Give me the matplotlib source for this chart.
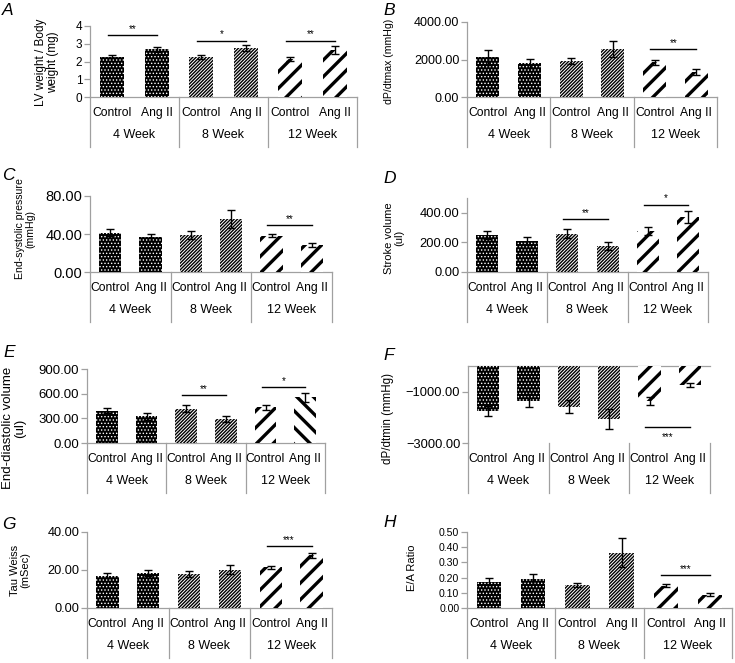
import numpy as np
import matplotlib
matplotlib.use("Agg")
import matplotlib.pyplot as plt
import matplotlib.transforms as mtransforms
from matplotlib.ticker import FuncFormatter

plt.rcParams["font.family"] = ["Liberation Sans", "DejaVu Sans"]

W, H = 735, 663
GRAY = "#a0a0a0"

weeks = ["4 Week", "8 Week", "12 Week"]
groups = ["Control", "Ang II"]

# values: Control/Ang II at 4, 8, 12 weeks
lv_mean = [2.27, 2.68, 2.24, 2.76, 2.15, 2.65]
lv_err = [0.10, 0.12, 0.10, 0.17, 0.10, 0.20]
dpmax_mean = [2110, 1790, 1930, 2580, 1850, 1360]
dpmax_err = [380, 240, 160, 430, 150, 160]
esp_mean = [41.5, 36.5, 38.8, 55.6, 38.3, 28.5]
esp_err = [3.3, 3.5, 4.5, 9.5, 1.8, 2.5]
sv_mean = [248, 208, 260, 174, 276, 371]
sv_err = [27, 28, 30, 27, 26, 40]
edv_mean = [393, 324, 418, 292, 434, 555]
edv_err = [32, 40, 45, 32, 30, 52]
dpmin_mean = [-1740, -1355, -1580, -2070, -1360, -740]
dpmin_err = [195, 260, 250, 390, 155, 90]
tau_mean = [17.0, 18.3, 17.9, 20.2, 21.4, 27.8]
tau_err = [1.3, 1.5, 1.4, 2.5, 0.9, 1.3]
ea_mean = [0.174, 0.191, 0.152, 0.365, 0.148, 0.087]
ea_err = [0.025, 0.030, 0.015, 0.098, 0.010, 0.011]

# significance: (control index, stars, line height)
lv_sig = [(0, "**", 3.5), (2, "*", 3.18), (4, "**", 3.18)]
dpmax_sig = [(4, "**", 2555)]
esp_sig = [(4, "**", 49.4)]
sv_sig = [(2, "**", 355), (4, "*", 456)]
edv_sig = [(2, "**", 584), (4, "*", 681)]
dpmin_sig = [(4, "***", -2380)]
tau_sig = [(4, "***", 32.7)]
ea_sig = [(4, "***", 0.217)]


def two(v, pos):
    return f"{v:.2f}".replace("-", "\u2212")


def panel(fig, rect, letter, letter_xy, mean, err, sig, ylim, yticks, fmt,
          ylabel, ylabel_xy, ylabel_size, tick_size, flip_e=False, stars_below=False):
    l, t, r, b = rect
    ax = fig.add_axes([l / W, 1 - b / H, (r - l) / W, (b - t) / H])
    h_px = b - t
    x = np.arange(6)
    styles = [
        dict(facecolor="black", edgecolor="white", hatch=".....", hlw=0.6),
        dict(facecolor="white", edgecolor="black", hatch="//////////", hlw=1.0),
        dict(facecolor="white", edgecolor="black", hatch="//", hlw=2.4),
    ]
    for i in range(6):
        st = styles[i // 2]
        hatch = st["hatch"]
        if flip_e and i == 5:
            hatch = "\\\\"
        with plt.rc_context({"hatch.linewidth": st["hlw"]}):
            bars = ax.bar(x[i], mean[i], width=0.55, facecolor=st["facecolor"],
                          edgecolor=st["edgecolor"], hatch=hatch, linewidth=0, zorder=2)
        for p in bars:
            if hasattr(p, "set_hatch_linewidth"):
                p.set_hatch_linewidth(st["hlw"])
    ax.errorbar(x, mean, yerr=err, fmt="none", ecolor="black", elinewidth=1.0,
                capsize=2.6, capthick=1.0, zorder=3)

    ax.set_xlim(-0.5, 5.5)
    ax.set_ylim(*ylim)
    ax.set_yticks(yticks)
    ax.yaxis.set_major_formatter(FuncFormatter(fmt))
    ax.set_xticks([])
    for s in ["top", "right", "bottom"]:
        ax.spines[s].set_visible(False)
    ax.spines["left"].set_color(GRAY)
    ax.spines["left"].set_linewidth(0.9)
    ax.tick_params(axis="y", direction="out", length=4, color=GRAY, width=0.9,
                   labelsize=tick_size, pad=1.5)
    ax.axhline(0, color=GRAY, lw=0.9, zorder=1, clip_on=False)

    # category axis below the plot area
    tr = mtransforms.blended_transform_factory(ax.transData, ax.transAxes)
    for xd in [-0.5, 1.5, 3.5, 5.5]:
        ax.plot([xd, xd], [0, -50 / h_px], color=GRAY, lw=0.9, transform=tr, clip_on=False)
    for i in range(6):
        ax.text(x[i], -16 / h_px, groups[i % 2], transform=tr, ha="center", va="center",
                fontsize=8.7)
    for k, wk in enumerate(weeks):
        ax.text(2 * k + 0.5, -38 / h_px, wk, transform=tr, ha="center", va="center",
                fontsize=9)

    # significance lines
    span = ylim[1] - ylim[0]
    for ci, stars, yv in sig:
        ax.plot([ci - 0.1, ci + 1.0], [yv, yv], color="black", lw=1.0, zorder=3)
        if stars_below:
            ax.text(ci + 0.45, yv - span * 10 / h_px, stars, ha="center", va="center",
                    fontsize=7)
        else:
            ax.text(ci + 0.45, yv + span * 1 / h_px, stars, ha="center", va="bottom",
                    fontsize=7)

    fig.text(ylabel_xy[0] / W, 1 - ylabel_xy[1] / H, ylabel, rotation=90, ha="center",
             va="center", multialignment="center", fontsize=ylabel_size, linespacing=1.1)
    fig.text(letter_xy[0] / W, 1 - letter_xy[1] / H, letter, ha="left", va="top",
             fontsize=12.5, fontstyle="italic")
    return ax


fig = plt.figure(figsize=(W / 100, H / 100), dpi=100)

panel(fig, (90, 26, 357, 97), "A", (2, 3), lv_mean, lv_err, lv_sig, (0, 4),
      [0, 1, 2, 3, 4], lambda v, p: f"{v:.0f}", "LV weight / Body\nweight (mg)", (47, 62),
      8.5, 8.5)
panel(fig, (467, 22, 717, 97), "B", (383, 3), dpmax_mean, dpmax_err, dpmax_sig, (0, 4000),
      [0, 2000, 4000], two, "dP/dtmax (mmHg)", (389, 61), 7.6, 9.0)
panel(fig, (90, 196, 332, 272), "C", (2, 168), esp_mean, esp_err, esp_sig, (0, 80),
      [0, 40, 80], two, "End-systolic pressure\n(mmHg)", (25, 229), 7.6, 10.5)
panel(fig, (467, 198, 708, 272), "D", (383, 171), sv_mean, sv_err, sv_sig, (0, 500),
      [0, 200, 400], two, "Stroke volume\n(ul)", (394, 238), 8.0, 9.3)
panel(fig, (87, 369, 325, 443), "E", (3, 345), edv_mean, edv_err, edv_sig, (0, 900),
      [0, 300, 600, 900], two, "End-diastolic volume\n(ul)", (14, 428), 9.5, 9.5,
      flip_e=True)
panel(fig, (468, 366, 710, 443), "F", (383, 348), dpmin_mean, dpmin_err, dpmin_sig,
      (-3000, 0), [-3000, -1000], two, "dP/dtmin (mmHg)", (388, 418), 8.3, 9.3,
      stars_below=True)
panel(fig, (87, 532, 332, 608), "G", (2, 517), tau_mean, tau_err, tau_sig, (0, 40),
      [0, 20, 40], two, "Tau Weiss\n(mSec)", (20, 570), 8.0, 9.2)
panel(fig, (467, 532, 732, 608), "H", (383, 515), ea_mean, ea_err, ea_sig, (0, 0.5),
      [0, 0.1, 0.2, 0.3, 0.4, 0.5], two, "E/A Ratio", (412, 568), 8.0, 7.6)

fig.savefig("out.png", dpi=100)
